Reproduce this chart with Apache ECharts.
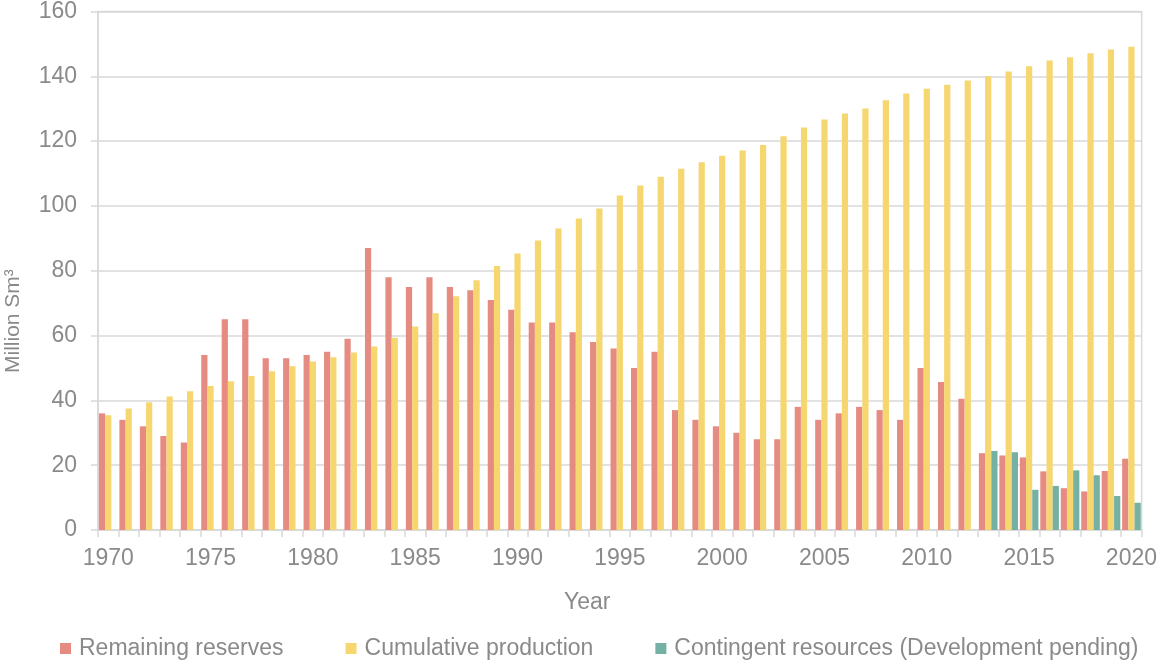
<!DOCTYPE html>
<html style="height: 100%">
<head>
    <meta charset="utf-8">
    <title>Remaining reserves, cumulative production and contingent resources</title>
    <script src="https://cdn.jsdelivr.net/npm/echarts@6/dist/echarts.min.js"></script>
</head>
<body style="height: 100%; margin: 0; background: #fff">
    <div id="chart" style="width: 1160px; height: 661px"></div>
    <script>
        // categories
        const years = [
            '1970', '1971', '1972', '1973', '1974', '1975', '1976', '1977', '1978', '1979',
            '1980', '1981', '1982', '1983', '1984', '1985', '1986', '1987', '1988', '1989',
            '1990', '1991', '1992', '1993', '1994', '1995', '1996', '1997', '1998', '1999',
            '2000', '2001', '2002', '2003', '2004', '2005', '2006', '2007', '2008', '2009',
            '2010', '2011', '2012', '2013', '2014', '2015', '2016', '2017', '2018', '2019', '2020'
        ];

        // Million Sm3
        const remainingReserves = [
            36, 34, 32, 29, 27, 54, 65, 65, 53, 53,
            54, 55, 59, 87, 78, 75, 78, 75, 74, 71,
            68, 64, 64, 61, 58, 56, 50, 55, 37, 34,
            32, 30, 28, 28, 38, 34, 36, 38, 37, 34,
            50, 45.7, 40.5, 23.7, 23, 22.4, 18.1, 12.9, 11.9, 18.2, 22
        ];
        const cumulativeProduction = [
            35.4, 37.5, 39.4, 41.2, 42.8, 44.4, 45.9, 47.5, 49, 50.5,
            52, 53.3, 54.8, 56.6, 59.3, 62.8, 66.9, 72.1, 77.1, 81.5,
            85.3, 89.3, 93, 96.1, 99.2, 103.2, 106.3, 109, 111.5, 113.5,
            115.5, 117.1, 118.8, 121.5, 124.2, 126.7, 128.5, 130.1, 132.6, 134.7,
            136.2, 137.4, 138.7, 140, 141.5, 143.1, 144.9, 145.9, 147.1, 148.3, 149.1
        ];
        // contingent resources only reported from 2013
        const contingentYears = ['2013', '2014', '2015', '2016', '2017', '2018', '2019', '2020'];
        const contingentResources = [24.4, 24, 12.4, 13.6, 18.4, 16.9, 10.5, 8.4];

        const yTicks = { min: 0, max: 160, interval: 20 };

        const contingentData = years.map(y => {
            const i = contingentYears.indexOf(y);
            return i >= 0 ? contingentResources[i] : null;
        });

        const textColor = '#8a8a8a';
        const lineColor = '#d9d9d9';
        const font = 'Liberation Sans, Arial, sans-serif';

        const chart = echarts.init(document.getElementById('chart'), null, { renderer: 'canvas' });

        const option = {
            backgroundColor: '#fff',
            animation: false,
            textStyle: { fontFamily: font },
            grid: {
                left: 98, right: 15, top: 11, bottom: 131,
                show: true, borderColor: lineColor, borderWidth: 1.5
            },
            legend: {
                left: 55, top: 632,
                itemWidth: 11, itemHeight: 11, itemGap: 62,
                icon: 'rect',
                textStyle: { color: textColor, fontSize: 23, fontFamily: font, padding: [0, 0, 0, 3] },
                data: ['Remaining reserves', 'Cumulative production', 'Contingent resources (Development pending)']
            },
            xAxis: {
                type: 'category',
                data: years,
                axisLine: { lineStyle: { color: lineColor, width: 1.5 } },
                axisTick: { show: true, length: 7, interval: 0, lineStyle: { color: lineColor, width: 1.5 } },
                axisLabel: { color: textColor, fontSize: 23, interval: 4, margin: 17, fontFamily: font }
            },
            yAxis: {
                type: 'value',
                min: yTicks.min, max: yTicks.max, interval: yTicks.interval,
                axisLine: { show: true, lineStyle: { color: lineColor, width: 1.5 } },
                axisTick: { show: true, length: 7, lineStyle: { color: lineColor, width: 1.5 } },
                axisLabel: { color: textColor, fontSize: 23, margin: 21, fontFamily: font },
                splitLine: { lineStyle: { color: lineColor, width: 1.5 } }
            },
            graphic: [
                {
                    type: 'text', left: 564, top: 591,
                    style: { text: 'Year', fill: textColor, font: '23px ' + font }
                },
                {
                    type: 'text', x: 3, y: 373, rotation: Math.PI / 2,
                    style: { text: 'Million Sm³', fill: textColor, font: '21px ' + font }
                }
            ],
            series: [
                {
                    name: 'Remaining reserves', type: 'bar', data: remainingReserves,
                    barGap: '0%', barCategoryGap: '9%',
                    itemStyle: { color: '#e68b81' }
                },
                {
                    name: 'Cumulative production', type: 'bar', data: cumulativeProduction,
                    barGap: '0%', barCategoryGap: '9%',
                    itemStyle: { color: '#f5d66f' }
                },
                {
                    name: 'Contingent resources (Development pending)', type: 'bar', data: contingentData,
                    barGap: '0%', barCategoryGap: '9%',
                    itemStyle: { color: '#74b1a4' }
                }
            ]
        };
        chart.setOption(option);
    </script>
</body>
</html>
